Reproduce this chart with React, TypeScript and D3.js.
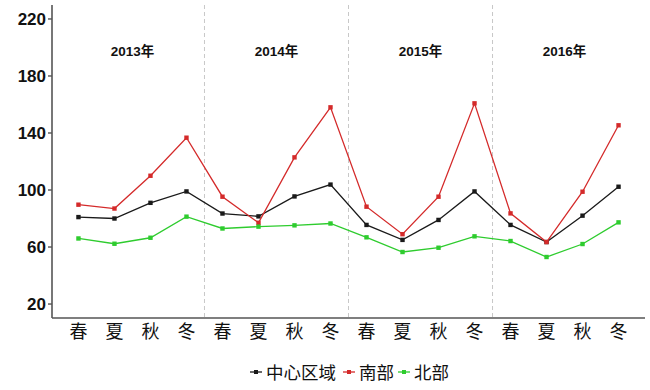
import React from "react";
import * as d3 from "d3";

// 季度与年份
const seasons = ["春", "夏", "秋", "冬"];
const years = ["2013年", "2014年", "2015年", "2016年"];
const yTicks = [20, 60, 100, 140, 180, 220];

// 三个区域的指数 (2013春 ~ 2016冬)
const centerVals = [81, 80, 91, 99, 83.5, 81.5, 95.5, 103.8, 75.5, 65, 79, 99, 75.5, 63.5, 82, 102.3];
const southVals = [89.7, 87, 110, 136.7, 95.3, 77, 122.9, 158, 88.3, 69, 95.3, 160.8, 83.6, 63.5, 98.8, 145.4];
const northVals = [66, 62.3, 66.5, 81.3, 73, 74.3, 75.2, 76.5, 66.8, 56.5, 59.5, 67.5, 64.2, 53, 62.1, 77.3];

const seriesNames = ["中心区域", "南部", "北部"];
const seriesColors = ["#1a1a1a", "#d42a2a", "#2ecc2e"];

export default function App() {
  const width = 650;
  const height = 390;
  const left = 52;
  const right = 645;
  const top = 5;
  const bottom = 318;

  const idx = d3.range(16);
  const x = d3.scalePoint<number>().domain(idx).range([left, right]).padding(0.735);
  const y = d3.scaleLinear().domain([10.2, 229.8]).range([bottom, top]);
  const step = x.step();

  const series = [centerVals, southVals, northVals];
  const line = d3
    .line<number>()
    .x((_, i) => x(i)!)
    .y((v) => y(v));

  // 图例位置
  const legendX = [250, 343, 398];

  return (
    <svg width={width} height={height} style={{ position: "absolute", left: 0, top: 0 }}>
      <rect x={0} y={0} width={width} height={height} fill="#ffffff" />

      {/* 年份分隔虚线 */}
      {[1, 2, 3].map((k) => (
        <line
          key={k}
          x1={x(k * 4 - 1)! + step / 2}
          x2={x(k * 4 - 1)! + step / 2}
          y1={top}
          y2={bottom}
          stroke="#c8c8c8"
          strokeDasharray="4 3"
        />
      ))}

      {/* 年份标签 */}
      {years.map((t, k) => (
        <text
          key={t}
          x={(x(k * 4)! + x(k * 4 + 3)!) / 2}
          y={51}
          dy="0.36em"
          textAnchor="middle"
          fontFamily="'Liberation Sans', 'Noto Sans CJK SC', sans-serif"
          fontWeight="bold"
          fontSize={13.5}
          fill="#111"
        >
          {t}
        </text>
      ))}

      {/* 折线 */}
      {series.map((vals, s) => (
        <g key={s}>
          <path d={line(vals)!} fill="none" stroke={seriesColors[s]} strokeWidth={1.3} />
          {vals.map((v, i) => (
            <rect key={i} x={x(i)! - 2.2} y={y(v) - 2.2} width={4.4} height={4.4} fill={seriesColors[s]} />
          ))}
        </g>
      ))}

      {/* 坐标轴 */}
      <line x1={left} x2={left} y1={top} y2={bottom} stroke="#555" strokeWidth={1.6} />
      <line x1={left} x2={right} y1={bottom} y2={bottom} stroke="#555" strokeWidth={1.6} />
      {yTicks.map((t) => (
        <g key={t}>
          <line x1={left - 4} x2={left} y1={y(t)} y2={y(t)} stroke="#555" strokeWidth={1.4} />
          <text
            x={left - 6}
            y={y(t)}
            dy="0.36em"
            textAnchor="end"
            fontFamily="'Liberation Sans', Arial, sans-serif"
            fontWeight="bold"
            fontSize={17}
            fill="#111"
          >
            {t}
          </text>
        </g>
      ))}
      {idx.map((i) => (
        <text
          key={i}
          x={x(i)}
          y={331}
          dy="0.38em"
          textAnchor="middle"
          fontFamily="'Noto Sans CJK SC', sans-serif"
          fontSize={18}
          fill="#111"
        >
          {seasons[i % 4]}
        </text>
      ))}

      {/* 图例 */}
      {seriesNames.map((n, s) => (
        <g key={n}>
          <line x1={legendX[s]} x2={legendX[s] + 12} y1={372} y2={372} stroke={seriesColors[s]} strokeWidth={1.3} />
          <rect x={legendX[s] + 4} y={370} width={4} height={4} fill={seriesColors[s]} />
          <text
            x={legendX[s] + 16}
            y={372}
            dy="0.38em"
            fontFamily="'Noto Sans CJK SC', sans-serif"
            fontSize={17.5}
            fill="#111"
          >
            {n}
          </text>
        </g>
      ))}
    </svg>
  );
}
